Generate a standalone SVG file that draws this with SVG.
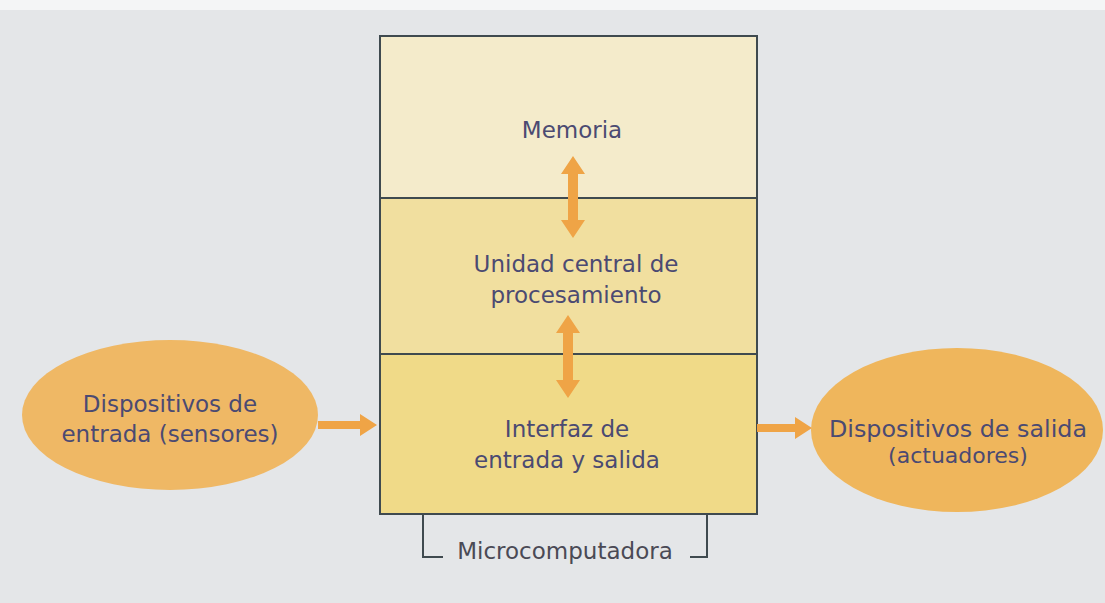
<svg xmlns="http://www.w3.org/2000/svg" width="1105" height="603" viewBox="0 0 1105 603">
<style>
.t{font-family:"DejaVu Sans","Liberation Sans",sans-serif;font-size:23px;fill:#4b4a72;text-anchor:middle}
.b{fill:none;stroke:#3f4a4f;stroke-width:2}
.arr{fill:#efa446}
</style>
<rect width="1105" height="603" fill="#e4e6e8"/>
<rect x="0" y="0" width="1105" height="10" fill="#f4f5f6"/>
<g id="microcomputadora">
<rect x="380" y="36" width="377" height="162" fill="#f4ebcb"/>
<rect x="380" y="198" width="377" height="156" fill="#f1df9f"/>
<rect x="380" y="354" width="377" height="160" fill="#f0da88"/>
<rect class="b" x="380" y="36" width="377" height="478"/>
<line class="b" x1="380" y1="198" x2="757" y2="198"/>
<line class="b" x1="380" y1="354" x2="757" y2="354"/>
<path class="b" d="M423 514 V557 H443 M690 557 H707 V514"/>
<text class="t" x="565" y="559" style="fill:#4a4a55">Microcomputadora</text>
</g>
<g id="memoria"><text class="t" x="572" y="138">Memoria</text></g>
<g id="cpu"><text class="t" x="576" y="272">Unidad central de</text><text class="t" x="576" y="303">procesamiento</text></g>
<g id="interfaz"><text class="t" x="567" y="437">Interfaz de</text><text class="t" x="567" y="468">entrada y salida</text></g>
<g id="entrada">
<ellipse cx="170" cy="415" rx="148" ry="75" fill="#efb865"/>
<text class="t" x="170" y="412">Dispositivos de</text>
<text class="t" x="170" y="442">entrada (sensores)</text>
</g>
<g id="salida">
<ellipse cx="957" cy="430" rx="146" ry="82" fill="#efb65c"/>
<text class="t" x="958" y="437" textLength="258" lengthAdjust="spacingAndGlyphs">Dispositivos de salida</text>
<text class="t" x="958" y="463" style="font-size:22px">(actuadores)</text>
</g>
<g id="connectors">
<polygon class="arr" points="573,156 585,174 578,174 578,220 585,220 573,238 561,220 568,220 568,174 561,174"/>
<polygon class="arr" points="568,315 580,333 573,333 573,380 580,380 568,398 556,380 563,380 563,333 556,333"/>
<polygon class="arr" points="318,421 360,421 360,414 377,425 360,436 360,429 318,429"/>
<polygon class="arr" points="757,424 795,424 795,417 812,428 795,439 795,432 757,432"/>
</g>
</svg>
